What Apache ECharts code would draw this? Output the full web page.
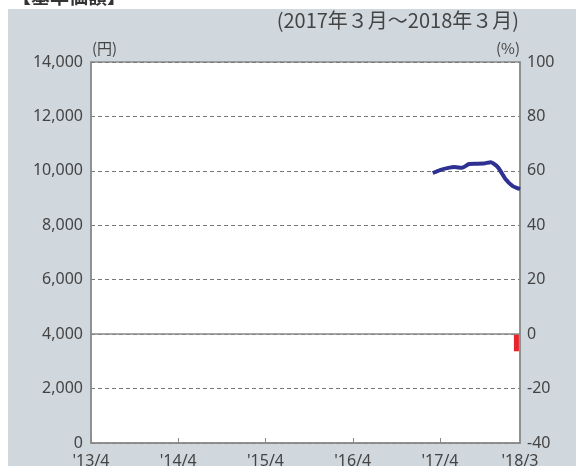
<!DOCTYPE html>
<html>
<head>
<meta charset="utf-8">
<script src="https://cdn.jsdelivr.net/npm/echarts@6/dist/echarts.min.js"></script>
<style>
  html, body { margin: 0; padding: 0; background: #fff; }
  #chart { width: 576px; height: 466px; }
</style>
</head>
<body>
<div id="chart"></div>
<script>
// 月次カテゴリ '13/4 〜 '18/3
const months = []
for (let y = 2013; y <= 2018; y++) {
  for (let m = 1; m <= 12; m++) {
    if ((y === 2013 && m < 4) || (y === 2018 && m > 3)) continue
    months.push("'" + String(y).slice(2) + '/' + m)
  }
}

// 基準価額（円） 2017/3〜2018/3
const navStart = "'17/3"
const navValues = [9920, 10030, 10100, 10140, 10110, 10250, 10260, 10270, 10320, 10120, 9700, 9440, 9330]

// 騰落率（%）
const returnMonth = "'18/3"
const returnValue = -6.3

const yenTicks = { min: 0, max: 14000, interval: 2000 }
const pctTicks = { min: -40, max: 100, interval: 20 }

const startIdx = months.indexOf(navStart)
const navSeries = months.map((m, i) =>
  i >= startIdx && i < startIdx + navValues.length ? navValues[i - startIdx] : null)
const barSeries = months.map(m => (m === returnMonth ? returnValue : null))

const labelIdx = i => i % 12 === 0 || i === months.length - 1
const font = '"Noto Sans", "Noto Sans CJK JP", sans-serif'
const cjkFont = '"Noto Sans CJK JP", "Noto Sans", sans-serif'
const textColor = '#444'
const lineGray = '#8a8a8a'

const chart = echarts.init(document.getElementById('chart'))

chart.setOption({
  animation: false,
  textStyle: { fontFamily: font },
  graphic: [
    { type: 'rect', shape: { x: 8, y: 9, width: 568, height: 457 }, style: { fill: '#d0d8de' }, z: -10 },
    { type: 'text', left: 12, top: -13, style: { text: '【基準価額】', font: 'bold 19px ' + cjkFont, fill: '#333' } },
    { type: 'text', right: 57, top: 10, style: { text: '(2017年３月～2018年３月)', font: '20px ' + cjkFont, fill: textColor } },
    { type: 'text', left: 92, top: 41, style: { text: '(円)', font: '15px ' + cjkFont, fill: textColor } },
    { type: 'text', right: 56, top: 41, style: { text: '(%)', font: '15px ' + cjkFont, fill: textColor } }
  ],
  grid: {
    left: 91, right: 56, top: 62, bottom: 23,
    outerBoundsMode: 'none',
    containLabel: false,
    show: true, backgroundColor: '#fff', borderColor: lineGray, borderWidth: 1.5
  },
  xAxis: [
    {
      type: 'category',
      data: months,
      boundaryGap: false,
      axisLine: { lineStyle: { color: lineGray, width: 1.5 } },
      axisTick: { inside: true, length: 5, interval: (i) => i % 12 === 0, lineStyle: { color: lineGray } },
      axisLabel: {
        interval: labelIdx, color: textColor, fontSize: 16, margin: 10,
        showMaxLabel: true
      }
    },
    {
      type: 'category',
      data: months,
      boundaryGap: true,
      show: false
    }
  ],
  yAxis: [
    {
      type: 'value',
      ...yenTicks,
      axisLine: { show: true, lineStyle: { color: lineGray, width: 1.5 } },
      axisTick: { show: false },
      axisLabel: {
        color: textColor, fontSize: 16, margin: 8,
        formatter: v => v.toLocaleString('en-US')
      },
      splitLine: { show: true, lineStyle: { color: '#777', type: [4, 3], width: 1 } }
    },
    {
      type: 'value',
      ...pctTicks,
      position: 'right',
      axisLine: { show: true, lineStyle: { color: lineGray, width: 1.5 } },
      axisTick: { show: false },
      axisLabel: { color: textColor, fontSize: 16, margin: 7 },
      splitLine: { show: false }
    }
  ],
  series: [
    {
      name: '騰落率',
      type: 'bar',
      xAxisIndex: 1,
      yAxisIndex: 1,
      data: barSeries,
      barWidth: 5,
      itemStyle: { color: '#e8232b' },
      markLine: {
        silent: true,
        symbol: 'none',
        label: { show: false },
        lineStyle: { color: lineGray, type: 'solid', width: 1.5 },
        data: [{ yAxis: 0 }]
      }
    },
    {
      name: '基準価額',
      type: 'line',
      data: navSeries,
      showSymbol: false,
      smooth: 0.2,
      lineStyle: { color: '#2e3192', width: 4 },
      z: 5
    }
  ]
})
</script>
</body>
</html>
